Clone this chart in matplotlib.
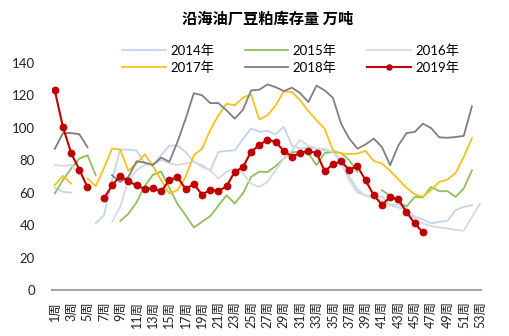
import numpy as np
import matplotlib
matplotlib.use('Agg')
import matplotlib.pyplot as plt

plt.rcParams['font.family'] = ['Lato', 'Noto Sans CJK SC', 'DejaVu Sans']

title = '沿海油厂豆粕库存量 万吨'
weeks = list(range(1, 54))
week_labels = ['{}周'.format(w) for w in weeks]
years = ['2014年', '2015年', '2016年', '2017年', '2018年', '2019年']

# weekly stock, 10k tonnes (None = no data)
s2014 = [63, 60.5, 60, None, None, 41, 46, 68, 86.5, 86.5,
         86, 78, 77, 83, 89, 89, 85, 79, 77, 73.5,
         85, 85.7, 86, 93, 99.5, 97.5, 98, 96, 100.5, 89,
         87, 88, 87, 86, 85, 80, 70, 62, 58, 57,
         57.6, 52.3, 52.9, 49.6, 45.1, 43.5, 41, 42, 42.6, 49.2,
         51.2, 52.3, None]
s2015 = [59.5, 67.7, 74.9, 81, 83, 70.7, None, None, 42.5, 47,
         54, 64, 71, 73, 63, 53, 46, 38.5, 42, 45.5,
         52, 58.4, 53.3, 59.5, 69.7, 73, 72.7, 76.3, 81, 85,
         85, 84.5, 76.9, 84.4, 85, 84.4, 80, 72.8, None, None,
         61.5, 58, 54.5, 51.3, 57.4, 57, 63.5, 60.9, 60.9, 57.4,
         62.5, 73.8, None]
s2016 = [77, 76.5, 77, 71, None, None, None, 42, 51.3, 67.7,
         73.8, 77, 78, 80, 78, 77, 78, 79, 75.9, 73.8,
         68.7, 72.8, 74.9, 71.8, 65.6, 63.5, 66.6, 73.8, 81, 86,
         92.5, 89, 87, 87, 85, 78, 67.7, 60, 58.4, 57,
         55, 52, 51, 48.2, 44, 41, 39.4, 38.5, 38, 37,
         36.5, 45, 53.3]
s2017 = [64.6, 70.3, 65.6, None, 68.7, 64, 75, 87.1, 86.7, 73.4,
         77.9, 83.6, 76.3, 67.7, 59.5, 61.5, 69.7, 83, 87.1, 98.4,
         107.6, 114.8, 113.8, 118.5, 120.5, 105, 107.6, 113.8, 122.4, 122,
         116.9, 110.3, 104.6, 99.4, 86.1, 84.1, 83.8, 84.1, 85.7, 79.5,
         77.9, 73.5, 68.2, 63, 59, 57.5, 61.5, 66.6, 68, 72,
         82, 93.6, None]
s2018 = [87, 96.7, 96.7, 96, 88, None, None, 70.7, 66.6, 69.7,
         79.3, 78.5, 77, 81.6, 79, 91.2, 105.6, 121.3, 120, 115.2,
         115.2, 110.7, 105.6, 111, 123, 123.4, 126.7, 125, 122.6, 124.7,
         121.3, 115.8, 126, 123, 118.5, 102.5, 93.3, 87.1, 89.7, 93.3,
         88.1, 76.9, 89, 96.7, 97.4, 102.5, 99.8, 94.1, 93.8, 94.3,
         95, 113.2, None]
s2019 = [123, 100.4, 84.4, 74.2, 63.3, None, 56.4, 64.4, 70.3, 67,
         64.4, 62.3, 62.7, 60.7, 67.7, 69.5, 62.3, 65.2, 58.8, 61.7,
         61.1, 63.8, 73, 75.5, 85.3, 89.2, 92.7, 91.2, 85.7, 82.2,
         84.4, 85.7, 84.4, 73.2, 77.5, 79.2, 74.2, 76.3, 67.5, 58.4,
         52.5, 57.2, 55.8, 48, 41, 35.5, None, None, None, None,
         None, None, None]

series = [s2014, s2015, s2016, s2017, s2018, s2019]
colors = ['#c3d5ec', '#8fc05c', '#d8d8e0', '#f5c21b', '#7f7f7f', '#c00000']

fig = plt.figure(figsize=(5.1, 3.36), dpi=100)
ax = fig.add_axes([0.101, 0.137, 0.842, 0.676])

handles = []
for name, vals, c in zip(years, series, colors):
    y = np.array(vals, dtype=float)
    if name == '2019年':
        h, = ax.plot(weeks, y, color=c, lw=1.5, marker='o', ms=4.6, label=name, zorder=5)
    else:
        h, = ax.plot(weeks, y, color=c, lw=1.3, label=name)
    handles.append(h)

ax.set_xlim(0.6, 53.1)
ax.set_ylim(0, 140)
ax.set_yticks(np.arange(0, 141, 20))
ax.set_xticks(weeks[::2])
ax.set_xticklabels(week_labels[::2], rotation=90)
ax.tick_params(axis='y', length=0, pad=12, labelsize=9.5, colors='#222222')
ax.tick_params(axis='x', length=0, pad=8, labelsize=9, colors='#222222')

for s in ['top', 'right', 'left']:
    ax.spines[s].set_visible(False)
ax.spines['bottom'].set_color('#a6a6a6')
ax.spines['bottom'].set_linewidth(1.5)

# legend rows go 2014 2015 2016 / 2017 2018 2019
order = [0, 3, 1, 4, 2, 5]
fig.legend([handles[i] for i in order], [years[i] for i in order],
           loc='center', bbox_to_anchor=(0.57, 0.824), ncol=3, frameon=False,
           fontsize=9.5, handlelength=3.3, handletextpad=0.35, columnspacing=2.3,
           labelspacing=0.35, markerscale=0.8)

fig.text(0.525, 0.945, title, ha='center', va='center', fontsize=11,
         fontweight='bold', family=['Noto Sans CJK SC', 'DejaVu Sans'])

plt.savefig('out.png', dpi=100)
